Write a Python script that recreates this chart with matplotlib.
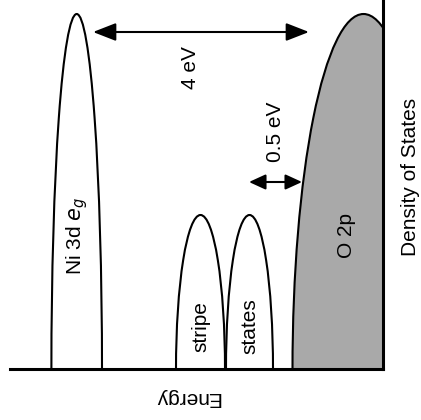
from __future__ import annotations

from typing import Sequence

import matplotlib

matplotlib.use("Agg")
import matplotlib.pyplot as plt
from matplotlib.patches import Ellipse

plt.rcParams["font.family"] = ["Liberation Sans", "DejaVu Sans"]

# Schematic density of states; energy and DOS in arbitrary units.
peak_labels = ["Ni 3d $e_g$", "stripe", "states", "O 2p"]
peak_centers = [66.7, 190.5, 239.5, 353.5]
peak_half_widths = [25.3, 24.5, 23.5, 71.0]
peak_heights = [355.0, 154.0, 154.0, 355.0]
peak_filled = [False, False, False, True]

# Gap annotations: (label, start energy, end energy, DOS level)
gap_labels = ["4 eV", "0.5 eV"]
gap_starts = [83.0, 239.0]
gap_ends = [299.0, 292.0]
gap_levels = [337.0, 187.0]

energy_range = (0.0, 373.0)
dos_range = (0.0, 369.0)

LINE_W = 1.5
FONT_SIZE = 15


def draw_peaks(
    ax: plt.Axes,
    centers: Sequence[float],
    half_widths: Sequence[float],
    heights: Sequence[float],
    filled: Sequence[bool],
) -> None:
    # each band is the upper half of an ellipse standing on the energy axis
    for center, half_w, height, fill in zip(centers, half_widths, heights, filled):
        patch = Ellipse(
            (center, 0.0),
            width=2 * half_w,
            height=2 * height,
            facecolor="#a9a9a9" if fill else "white",
            edgecolor="black",
            linewidth=LINE_W,
            zorder=2,
        )
        ax.add_patch(patch)


def draw_gap(ax: plt.Axes, x0: float, x1: float, level: float, big: bool) -> None:
    style = "<|-|>,head_length=1.0,head_width=0.39" if big else "<|-|>,head_length=0.72,head_width=0.33"
    ax.annotate(
        "",
        xy=(x1, level),
        xytext=(x0, level),
        arrowprops=dict(
            arrowstyle=style,
            color="black",
            lw=LINE_W,
            shrinkA=0,
            shrinkB=0,
            mutation_scale=14,
        ),
        zorder=4,
    )


fig = plt.figure(figsize=(4.21, 4.20), dpi=100)
ax = fig.add_axes([10 / 421, 51 / 420, 373 / 421, 369 / 420])
ax.set_xlim(*energy_range)
ax.set_ylim(*dos_range)

draw_peaks(ax, peak_centers, peak_half_widths, peak_heights, peak_filled)

for x0, x1, level, big in zip(gap_starts, gap_ends, gap_levels, [True, False]):
    draw_gap(ax, x0, x1, level, big)

# band and gap labels, all running upwards
label_positions = [(67.0, 133.0), (191.0, 42.0), (240.0, 43.0), (337.0, 134.0)]
for text, (x, y) in zip(peak_labels, label_positions):
    ax.text(x, y, text, rotation=90, ha="center", va="center", fontsize=FONT_SIZE, zorder=3)
ax.text(181.0, 301.0, gap_labels[0], rotation=90, ha="center", va="center", fontsize=FONT_SIZE)
ax.text(266.0, 237.0, gap_labels[1], rotation=90, ha="center", va="center", fontsize=FONT_SIZE)

for side in ("left", "top"):
    ax.spines[side].set_visible(False)
for side in ("right", "bottom"):
    ax.spines[side].set_linewidth(2.2)
    ax.spines[side].set_zorder(5)
ax.set_xticks([])
ax.set_yticks([])

# axis titles: energy printed upside down, DOS running up the right side
fig.text(187 / 421, 1 - 398 / 420, "Energy", rotation=180, ha="center", va="center", fontsize=FONT_SIZE)
fig.text(410 / 421, 1 - 177 / 420, "Density of States", rotation=90, ha="center", va="center", fontsize=FONT_SIZE)

fig.savefig("out.png", dpi=100)
plt.close(fig)
